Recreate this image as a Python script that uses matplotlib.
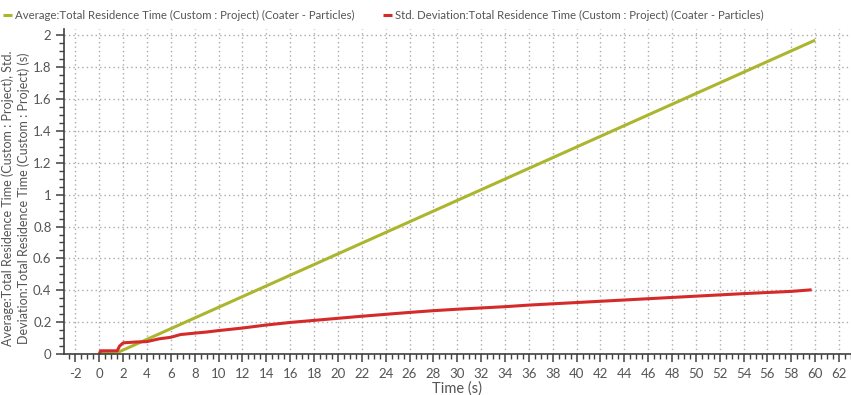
import matplotlib
matplotlib.use("Agg")
import matplotlib.pyplot as plt
from matplotlib.ticker import MultipleLocator, FormatStrFormatter

plt.rcParams['font.family'] = ['Lato', 'DejaVu Sans']

# Data
avg_t = [0.0, 0.1, 1.55, 60.0]
avg_v = [0.0, 0.01, 0.01, 1.97]

std_t = [0.0, 0.1, 1.5, 1.7, 2.0, 3.0, 4.0, 5.0, 6.0, 6.8, 8.0, 9.0, 10.0, 12.0, 14.0,
         16.0, 18.0, 20.0, 22.0, 24.0, 26.0, 28.0, 30.0, 32.0, 34.0, 36.0, 38.0, 40.0,
         42.0, 44.0, 46.0, 48.0, 50.0, 52.0, 54.0, 56.0, 58.0, 59.7]
std_v = [0.0, 0.02, 0.02, 0.05, 0.07, 0.075, 0.078, 0.095, 0.105, 0.122, 0.131, 0.138,
         0.147, 0.163, 0.182, 0.198, 0.211, 0.224, 0.237, 0.249, 0.261, 0.272, 0.281,
         0.289, 0.297, 0.307, 0.315, 0.323, 0.331, 0.339, 0.347, 0.355, 0.363, 0.371,
         0.379, 0.386, 0.393, 0.403]

avg_label = "Average:Total Residence Time (Custom : Project) (Coater - Particles)"
std_label = "Std. Deviation:Total Residence Time (Custom : Project) (Coater - Particles)"
xlabel = "Time (s)"
ylabel = ("Average:Total Residence Time (Custom : Project), Std.\n"
          "Deviation:Total Residence Time (Custom : Project) (s)")

W, H = 851, 395
fig = plt.figure(figsize=(W / 100, H / 100), dpi=100)
ax = fig.add_axes([64 / W, (H - 354) / H, (W - 64) / W, (354 - 29) / H])

green = '#abb62e'
red = '#d42a2a'
l1, = ax.plot(avg_t, avg_v, color=green, lw=2.2, label=avg_label, solid_capstyle='butt')
l2, = ax.plot(std_t, std_v, color=red, lw=2.2, label=std_label, solid_capstyle='butt')

ax.set_xlim(-2.96, 63.0)
ax.set_ylim(0, 2.04)
ax.xaxis.set_major_locator(MultipleLocator(2))
ax.xaxis.set_minor_locator(MultipleLocator(0.5))
ax.yaxis.set_major_locator(MultipleLocator(0.2))
ax.yaxis.set_minor_locator(MultipleLocator(0.05))
ax.yaxis.set_major_formatter(FormatStrFormatter('%g'))
ax.xaxis.set_major_formatter(FormatStrFormatter('%g'))

for s in ['top', 'right']:
    ax.spines[s].set_visible(False)
for s in ['left', 'bottom']:
    ax.spines[s].set_color('#404040')
    ax.spines[s].set_linewidth(1.2)

ax.tick_params(axis='both', which='major', direction='out', length=6, width=1.1,
               color='#404040', labelcolor='#555555', labelsize=9.5, pad=4)
ax.tick_params(axis='y', which='major', pad=3)
ax.tick_params(axis='both', which='minor', direction='out', length=3.5, width=1.0,
               color='#404040')

ax.grid(True, which='major', color='#aaaaaa', linestyle=(0, (1, 2.2)), linewidth=1.0)
ax.set_axisbelow(True)

ax.set_xlabel(xlabel, fontsize=10.5, color='#555555', labelpad=1)
ax.set_ylabel(ylabel, fontsize=9.0, color='#555555', linespacing=1.3)
ax.yaxis.set_label_coords(-0.043, 0.48)

fs_leg = 8.2
fpx = fs_leg * 100 / 72
common = dict(loc='center left', frameon=False, fontsize=fs_leg, handlelength=9 / fpx,
              handletextpad=3 / fpx, borderpad=0, borderaxespad=0, labelcolor='#555555')
leg1 = fig.legend(handles=[l1], labels=[avg_label],
                  bbox_to_anchor=(3 / W, 1 - 15 / H), **common)
leg2 = fig.legend(handles=[l2], labels=[std_label],
                  bbox_to_anchor=(383 / W, 1 - 15 / H), **common)

fig.savefig('out.png', dpi=100)
